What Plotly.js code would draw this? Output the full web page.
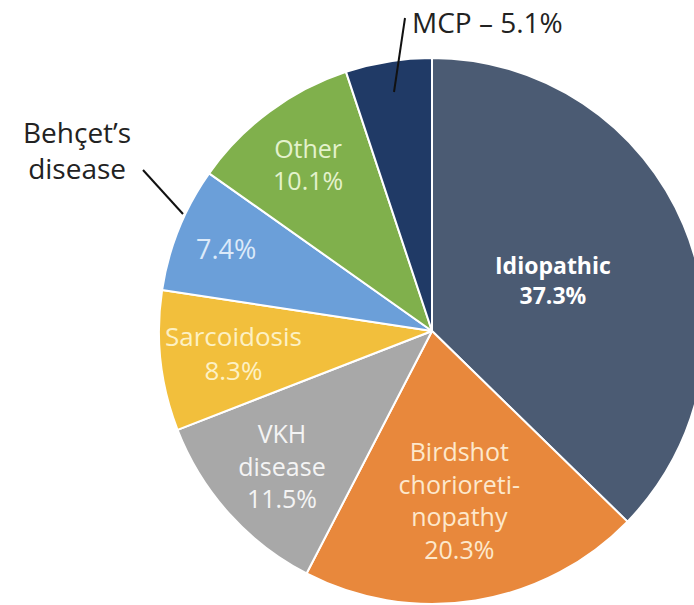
<!DOCTYPE html>
<html>
<head>
<meta charset="utf-8">
<script src="https://cdn.plot.ly/plotly-3.0.1.min.js"></script>
<style>
html,body{margin:0;padding:0;overflow:hidden;background:#fff;width:694px;height:605px;}
#chart{width:720px;height:605px;}
</style>
</head>
<body>
<div id="chart"></div>
<script>
const categories = ["Idiopathic", "Birdshot chorioretinopathy", "VKH disease", "Sarcoidosis", "Behçet’s disease", "Other", "MCP"];
const values = [37.3, 20.3, 11.5, 8.3, 7.4, 10.1, 5.1];
const sliceLabels = ["<b>Idiopathic<br>37.3%</b>", "Birdshot<br>chorioreti-<br>nopathy<br>20.3%", "VKH<br>disease<br>11.5%", "Sarcoidosis<br>8.3%", "7.4%", "Other<br>10.1%", ""];
const colors = ["#4b5b73", "#e8883c", "#a8a8a8", "#f2bf3c", "#6b9fd9", "#80b04c", "#203a66"];
const textColors = ["#ffffff", "#fde8cc", "#f4f4f4", "#fdf1c4", "#dceaf9", "#e4f2cc", "#ffffff"];
const textSizes = [23, 25, 25, 26, 27, 25, 25];
const outsideLabels = ["MCP – 5.1%", "Behçet’s<br>disease"];

const W = 720, H = 605;
const cx = 432, cy = 331, r = 273;
const px = x => x / W, py = y => 1 - y / H;
const FONT = "Open Sans, sans-serif";

// Slices whose labels are placed on the slice's mid-angle (computed from the data), at a fraction of the radius
const manual = {0: 0.48, 3: 0.73};
const total = values.reduce((a, b) => a + b, 0);
const midFrac = values.map((v, i) => (values.slice(0, i).reduce((a, b) => a + b, 0) + v / 2) / total);

const pieText = sliceLabels.map((t, i) => (i in manual) ? "" : t);

const trace = {
  type: "pie",
  labels: categories,
  values: values,
  text: pieText,
  textinfo: "text",
  textposition: "inside",
  insidetextorientation: "horizontal",
  sort: false,
  direction: "clockwise",
  rotation: 0,
  marker: {colors: colors, line: {color: "#ffffff", width: 2}},
  insidetextfont: {family: FONT, size: textSizes, color: textColors},
  hoverinfo: "label+percent",
  domain: {x: [px(cx - r), px(cx + r)], y: [py(cy + r), py(cy - r)]},
  showlegend: false
};

const annotations = [
  {text: outsideLabels[0], xref: "paper", yref: "paper", x: px(410), y: py(22), xanchor: "left", yanchor: "middle", showarrow: false, font: {family: FONT, size: 28, color: "#222222"}},
  {text: outsideLabels[1], xref: "paper", yref: "paper", x: px(77), y: py(150), xanchor: "center", yanchor: "middle", showarrow: false, font: {family: FONT, size: 28, color: "#222222"}}
];
Object.keys(manual).forEach(k => {
  const i = +k;
  const a = midFrac[i] * 2 * Math.PI;
  const rr = manual[k] * r;
  annotations.push({
    text: sliceLabels[i], xref: "paper", yref: "paper",
    x: px(cx + rr * Math.sin(a)), y: py(cy - rr * Math.cos(a)),
    xanchor: "center", yanchor: "middle", showarrow: false,
    font: {family: FONT, size: textSizes[i], color: textColors[i]}
  });
});

const layout = {
  width: W, height: H,
  margin: {l: 0, r: 0, t: 0, b: 0},
  paper_bgcolor: "#ffffff",
  showlegend: false,
  annotations: annotations,
  shapes: [
    {type: "line", xref: "paper", yref: "paper", x0: px(405), y0: py(18), x1: px(394), y1: py(92), line: {color: "#111111", width: 2}},
    {type: "line", xref: "paper", yref: "paper", x0: px(143), y0: py(170), x1: px(183), y1: py(214), line: {color: "#111111", width: 2}}
  ]
};

Plotly.newPlot("chart", [trace], layout, {staticPlot: true});
</script>
</body>
</html>
